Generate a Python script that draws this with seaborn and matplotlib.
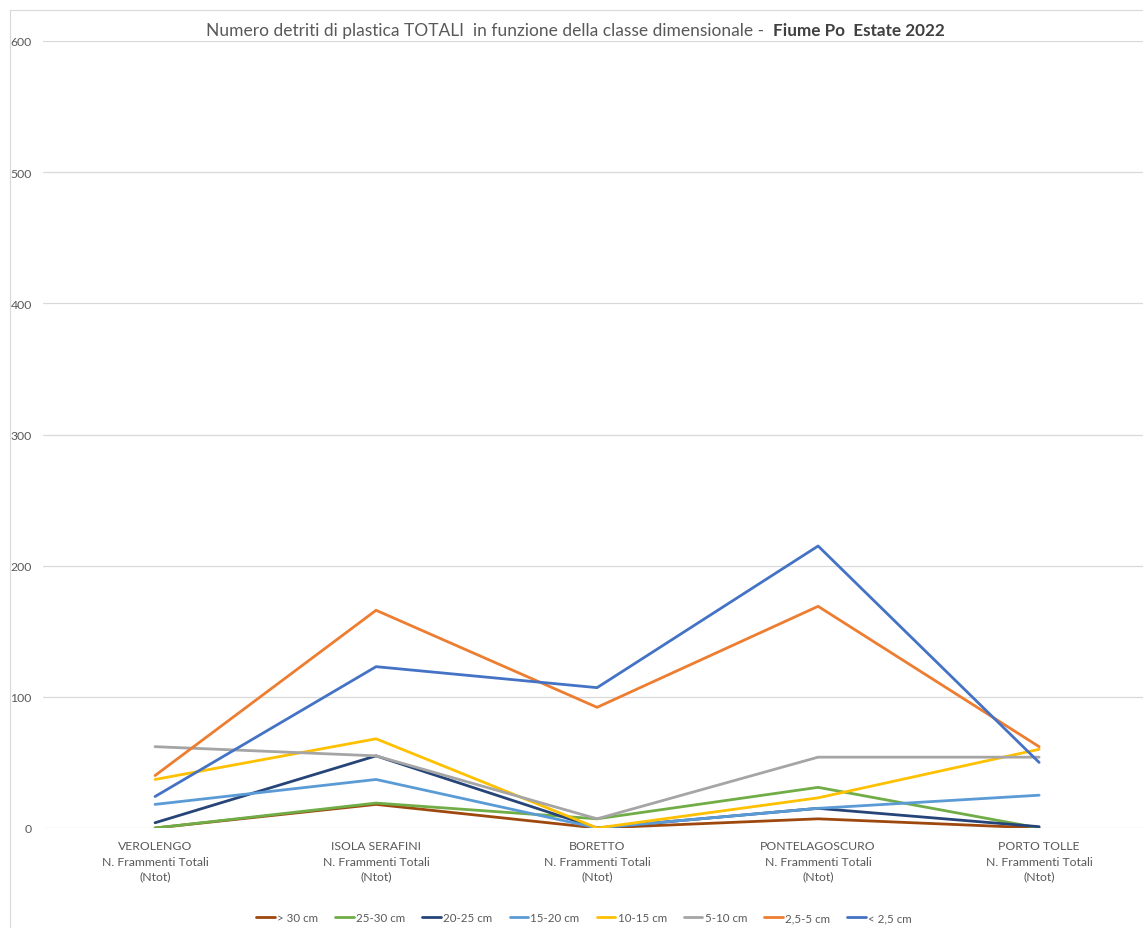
import matplotlib.pyplot as plt
import pandas as pd
import seaborn as sns
from matplotlib.lines import Line2D

SITES = ["VEROLENGO", "ISOLA SERAFINI", "BORETTO", "PONTELAGOSCURO", "PORTO TOLLE"]
CLASSES = ["> 30 cm", "25-30 cm", "20-25 cm", "15-20 cm", "10-15 cm", "5-10 cm", "2,5-5 cm", "< 2,5 cm"]
COLORS = ["#9E480E", "#70AD47", "#264478", "#5B9BD5", "#FFC000", "#A5A5A5", "#ED7D31", "#4472C4"]

over_30 = [0, 18, 0, 7, 0]
c25_30 = [0, 19, 7, 31, 0]
c20_25 = [4, 55, 0, 15, 1]
c15_20 = [18, 37, 0, 15, 25]
c10_15 = [37, 68, 0, 23, 60]
c5_10 = [62, 55, 7, 54, 54]
c25_5 = [40, 166, 92, 169, 62]
under_25 = [24, 123, 107, 215, 50]

SERIES = [over_30, c25_30, c20_25, c15_20, c10_15, c5_10, c25_5, under_25]

rows = []
for cls, vals in zip(CLASSES, SERIES):
    for i, v in enumerate(vals):
        rows.append({"pos": i, "classe": cls, "n": v})
df = pd.DataFrame(rows)

sns.set_style("white")
plt.rcParams["font.family"] = ["Lato", "DejaVu Sans"]
TXT = "#595959"

fig = plt.figure(figsize=(11.43, 9.29), dpi=100)
ax = fig.add_axes([43 / 1143, 100 / 929, 1 - 43 / 1143, 787 / 929])

sns.lineplot(data=df, x="pos", y="n", hue="classe", hue_order=CLASSES,
             palette=COLORS, linewidth=2.0, ax=ax, legend=False, sort=False)

ax.set_ylim(0, 600)
ax.set_xlim(-0.507, 4.47)
ax.set_yticks(range(0, 601, 100))
ax.set_xticks(range(len(SITES)))
ax.set_xticklabels([f"{s}\nN. Frammenti Totali\n(Ntot)" for s in SITES],
                   linespacing=1.45)
ax.tick_params(axis="both", length=0, labelsize=8.8, labelcolor=TXT)
ax.tick_params(axis="y", pad=8)
ax.tick_params(axis="x", pad=9)
ax.grid(axis="y", color="#D9D9D9", linewidth=0.9)
ax.set_axisbelow(True)
for sp in ax.spines.values():
    sp.set_visible(False)
ax.set_xlabel("")
ax.set_ylabel("")

# titolo con parte in grassetto
fig.text(769 / 1143, 1 - 31 / 929,
         "Numero detriti di plastica TOTALI  in funzione della classe dimensionale - ",
         ha="right", va="center", fontsize=12.5, color=TXT)
fig.text(773 / 1143, 1 - 31 / 929, "Fiume Po  Estate 2022",
         ha="left", va="center", fontsize=12.3, color="#404040", fontweight="bold")

handles = [Line2D([0], [0], color=c, lw=2.0) for c in COLORS]
fig.legend(handles, CLASSES, loc="center", bbox_to_anchor=(584 / 1143, 1 - 919 / 929),
           ncol=8, frameon=False, fontsize=8.3, handlelength=1.6, handletextpad=0.2,
           columnspacing=1.5, labelcolor=TXT)

# cornice del grafico
fig.add_artist(Line2D([10 / 1143, 10 / 1143], [0, 1 - 11 / 929], color="#D9D9D9", lw=0.8))
fig.add_artist(Line2D([10 / 1143, 1], [1 - 11 / 929, 1 - 11 / 929], color="#D9D9D9", lw=0.8))

fig.savefig("out.png", dpi=100)
plt.close(fig)
